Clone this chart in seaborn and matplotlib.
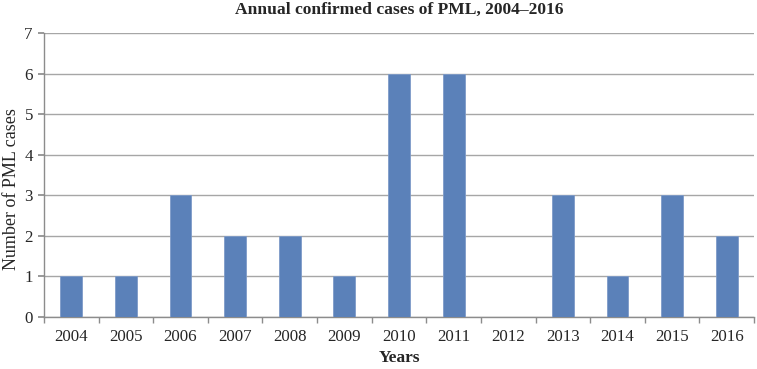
import pandas as pd
import matplotlib.pyplot as plt
import seaborn as sns

# data
years = ['2004', '2005', '2006', '2007', '2008', '2009', '2010',
         '2011', '2012', '2013', '2014', '2015', '2016']
cases = [1, 1, 3, 2, 2, 1, 6, 6, 0, 3, 1, 3, 2]

df = pd.DataFrame({'year': years, 'cases': cases})

sns.set_theme(style='white')
plt.rcParams['font.family'] = ['Liberation Serif', 'DejaVu Serif']

fig = plt.figure(figsize=(7.57, 3.69), dpi=100)
ax = fig.add_axes([0.0581, 0.141, 0.938, 0.7696])

sns.barplot(x='year', y='cases', data=df, color='#5b81b9', saturation=1,
            width=0.4, edgecolor='#7e9bc8', linewidth=0.6, ax=ax, zorder=3)

ax.set_ylim(0, 7)
ax.set_xlim(-0.5, len(years) - 0.5)
ax.set_yticks(range(0, 8))
ax.yaxis.grid(True, color='#a6a6a6', linewidth=1, zorder=0)
ax.set_axisbelow(True)

for s in ['top', 'right']:
    ax.spines[s].set_visible(False)
for s in ['left', 'bottom']:
    ax.spines[s].set_color('#8c8c8c')
    ax.spines[s].set_linewidth(1)

# category boundary ticks on x axis
ax.set_xticks([i - 0.5 for i in range(len(years) + 1)], minor=True)
ax.tick_params(axis='x', which='major', length=0, labelsize=12.2, pad=9)
ax.tick_params(axis='x', which='minor', length=4, color='#8c8c8c', direction='out')
ax.tick_params(axis='y', length=4, color='#8c8c8c', direction='out', labelsize=12.2, pad=4)
ax.tick_params(bottom=True, left=True, which='both')

ax.set_title('Annual confirmed cases of PML, 2004\u20132016',
             fontsize=12.6, fontweight='bold', pad=14)
ax.set_xlabel('Years', fontsize=12.5, fontweight='bold', labelpad=3)
ax.set_ylabel('Number of PML cases', fontsize=13)
ax.yaxis.set_label_coords(-0.034, 0.45)

fig.savefig('out.png', dpi=100)
